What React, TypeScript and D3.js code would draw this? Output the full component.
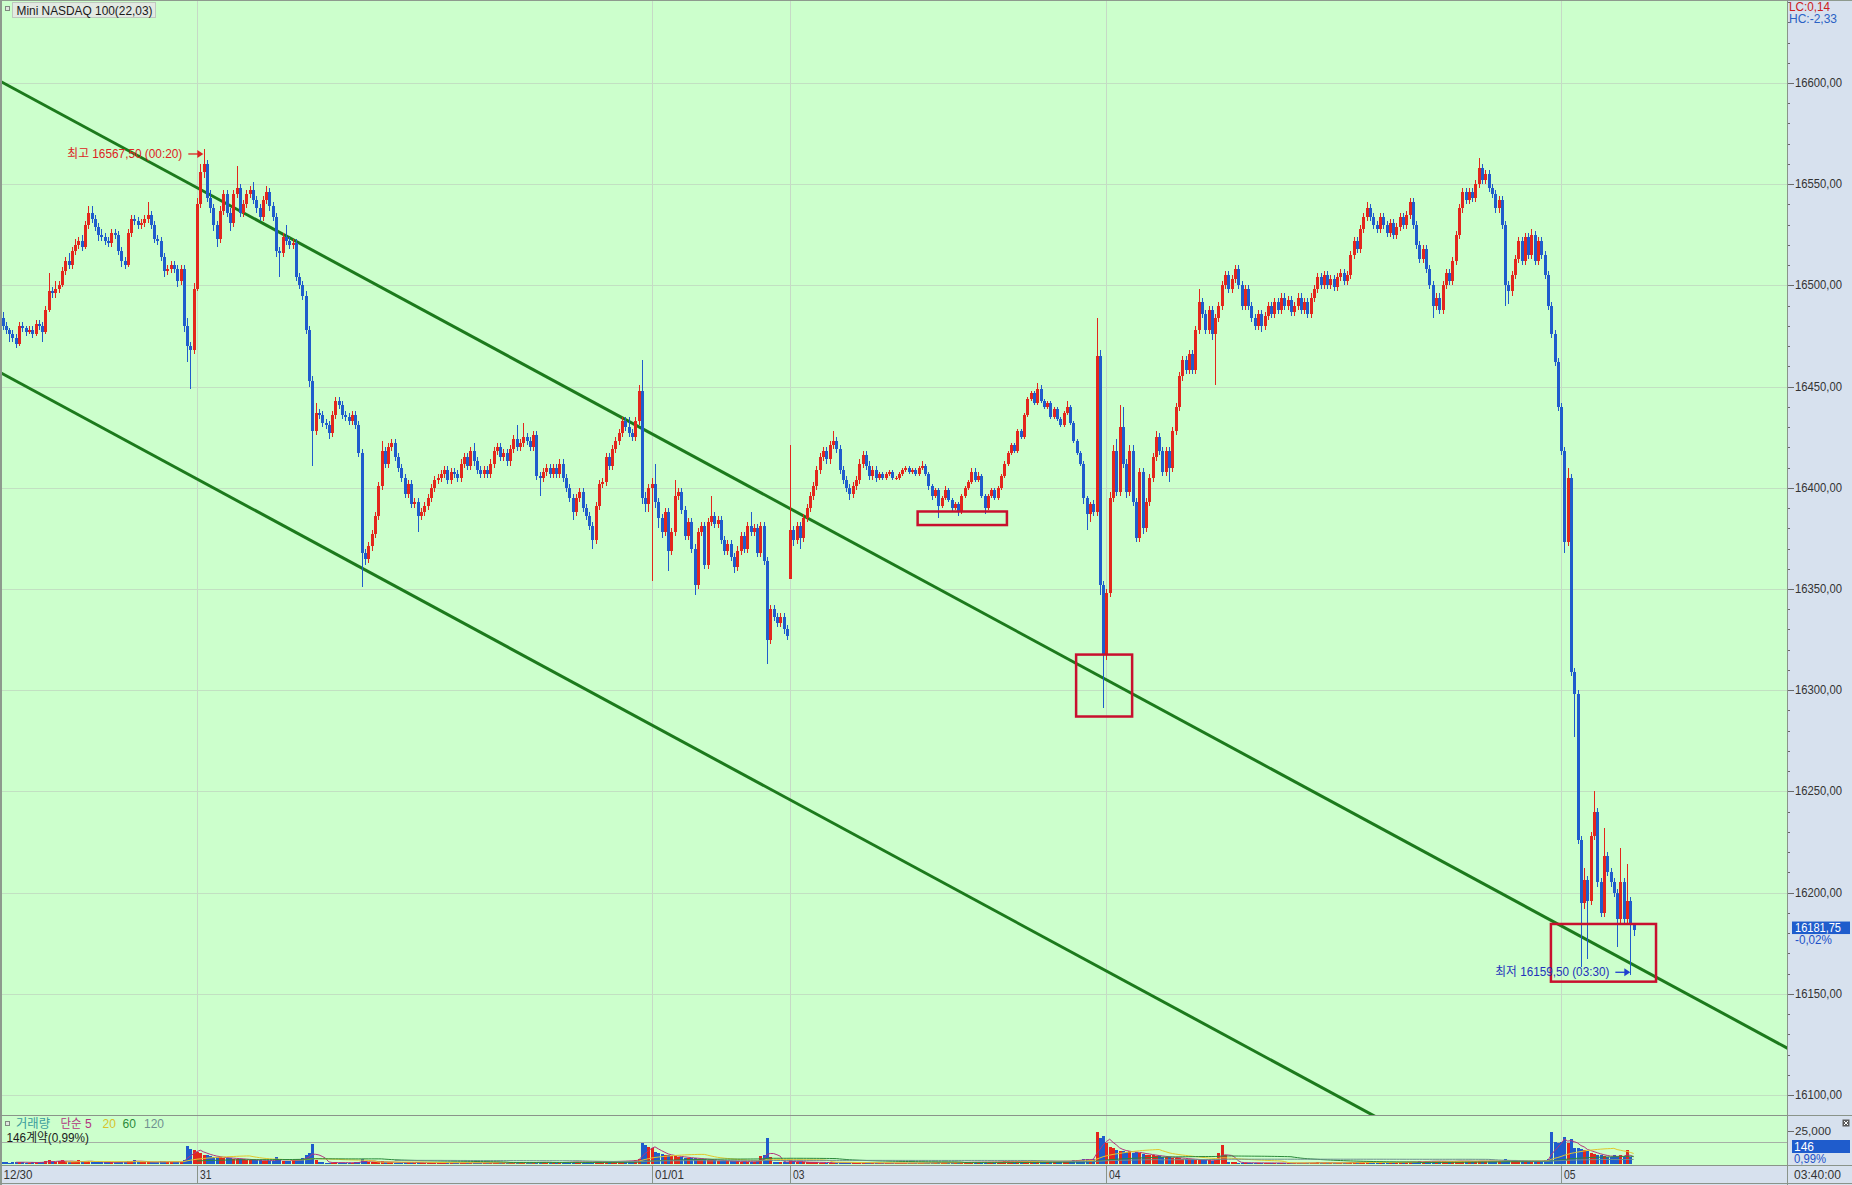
import React from "react";
import * as d3 from "d3";

// ---------------- DATA ----------------
// 10-minute bars, index 0 = 12/30 14:10 KST, last = 01/05 03:40 KST
const closes = [
  16480,16478,16476,16474,16471,16480,16479,16477,16478,16476,
  16481,16480,16477,16488,16497,16496,16498,16500,16507,16512,
  16510,16517,16520,16522,16519,16530,16536,16533,16529,16525,
  16524,16522,16521,16526,16525,16517,16512,16510,16526,16533,
  16532,16530,16531,16533,16535,16530,16523,16522,16514,16507,
  16508,16510,16508,16502,16508,16480,16470,16468,16498,16540,
  16556,16560,16543,16538,16530,16523,16537,16545,16536,16531,
  16545,16548,16536,16540,16545,16547,16542,16538,16534,16542,
  16546,16539,16534,16517,16516,16524,16522,16520,16521,16504,
  16500,16495,16478,16453,16428,16437,16436,16432,16431,16427,
  16436,16443,16441,16436,16435,16433,16436,16431,16417,16368,
  16365,16371,16377,16386,16401,16418,16412,16420,16422,16415,
  16410,16405,16397,16402,16392,16393,16386,16388,16391,16395,
  16400,16404,16405,16407,16409,16404,16408,16407,16405,16412,
  16415,16411,16418,16413,16409,16407,16409,16407,16412,16418,
  16420,16415,16417,16413,16419,16424,16420,16422,16425,16423,
  16420,16426,16406,16405,16408,16410,16407,16410,16407,16412,
  16405,16400,16395,16388,16395,16398,16390,16386,16381,16374,
  16391,16402,16403,16415,16411,16419,16423,16427,16433,16430,
  16427,16425,16433,16448,16395,16392,16400,16402,16393,16385,
  16378,16388,16369,16378,16396,16398,16389,16376,16383,16370,
  16352,16378,16381,16362,16383,16386,16382,16384,16374,16369,
  16372,16366,16361,16369,16376,16370,16381,16378,16380,16368,
  16381,16364,16325,16340,16336,16333,16336,16330,16327,16379,
  16374,16381,16375,16385,16390,16396,16401,16409,16415,16418,
  16414,16421,16423,16419,16409,16404,16400,16397,16401,16404,
  16412,16416,16411,16406,16409,16405,16407,16405,16407,16408,
  16405,16405,16407,16409,16410,16408,16409,16407,16410,16411,
  16407,16401,16396,16399,16391,16395,16399,16394,16390,16392,
  16388,16396,16400,16403,16408,16404,16406,16396,16390,16396,
  16399,16395,16400,16406,16412,16417,16421,16418,16428,16425,
  16436,16444,16447,16442,16449,16443,16440,16442,16435,16439,
  16434,16431,16437,16440,16432,16423,16417,16412,16395,16387,
  16392,16388,16465,16352,16318,16348,16395,16418,16398,16430,
  16412,16398,16418,16393,16375,16408,16380,16393,16405,16415,
  16425,16418,16408,16418,16410,16428,16440,16455,16463,16458,
  16466,16458,16478,16492,16486,16478,16488,16476,16484,16490,
  16500,16505,16498,16503,16508,16500,16490,16498,16490,16484,
  16480,16486,16480,16485,16490,16486,16492,16488,16494,16490,
  16493,16487,16490,16494,16488,16492,16486,16494,16498,16504,
  16500,16505,16500,16503,16499,16504,16506,16502,16505,16515,
  16522,16518,16528,16534,16538,16534,16530,16528,16534,16530,
  16526,16531,16525,16529,16534,16530,16535,16541,16530,16520,
  16513,16518,16508,16500,16490,16494,16488,16500,16506,16502,
  16512,16525,16538,16546,16542,16546,16543,16550,16558,16552,
  16555,16548,16545,16538,16542,16530,16500,16497,16505,16513,
  16522,16512,16524,16515,16525,16512,16522,16515,16505,16490,
  16476,16462,16440,16418,16373,16405,16309,16298,16226,16195,
  16206,16196,16228,16240,16205,16190,16218,16210,16205,16200,
  16187,16205,16187,16196,16184,16181.75,
];

// points of upper shadow above the body
const wickUp = [
  3,2,1,2,2,2,2,1,2,2, 2,2,2,2,9,2,4,2,2,2, 4,2,3,2,3,2,3,3,2,2, 3,2,2,2,2,2,2,2,2,2,
  2,2,2,2,6,2,2,2,2,2, 2,2,2,2,2,2,4,2,3,3, 4,7.5,2,4,2,2,2,2,2,2, 2,11,2,2,2,2,4,2,2,2,
  3,2,2,2,2,2,6,2,2,2, 2,2,2,2,2,5,2,2,2,2, 2,2,2,2,2,2,2,2,2,2, 2,2,2,2,2,5,2,2,2,2,
  2,2,2,2,2,2,2,2,2,2, 2,2,2,2,2,2,2,2,2,2, 2,2,2,4,2,2,2,2,2,2, 2,2,2,2,2,2,7,2,7,2,
  2,2,2,2,2,2,2,2,2,2, 2,2,2,2,2,2,2,2,2,2, 2,2,2,2,2,2,2,2,2,2, 5,2,2,3,15,3,2,3,10,2,
  2,2,2,2,8,2,2,2,2,2, 2,2,2,2,2,10,2,2,2,2, 2,2,2,2,2,2,2,7,2,2, 2,2,2,2,2,2,2,2,2,42,
  2,2,2,2,2,2,2,2,2,2, 2,2,5,2,2,2,2,2,2,2, 2,2,2,2,2,2,1,1,1,1, 1,1,1,1,1,1,1,1,1,2,
  1,1,1,1,1,1,2,1,1,1, 1,1,1,1,2,2,2,1,1,1, 1,1,1,1,1,1,1,1,1,1, 1,1,1,1,3,2,1,1,1,1,
  1,1,1,3,1,1,1,1,1,1, 1,2,19,3,2,2,3,3,6,11, 10,2,3,3,2,2,2,2,2,2, 3,2,2,2,2,2,2,2,2,2,
  2,2,2,6,2,2,2,2,2,2, 2,2,2,2,2,2,2,2,2,2, 2,2,2,2,2,2,2,2,2,2, 2,2,2,2,2,2,2,2,2,2,
  2,2,2,2,2,2,2,2,2,2, 2,2,2,2,3,2,2,2,2,2, 2,2,2,2,2,2,2,2,2,2, 2,2,2,2,2,2,2,2,2,2,
  2,2,2,2,2,2,2,2,5,2, 2,2,2,2,2,2,2,2,2,2, 2,2,2,2,3,2,2,2,2,2, 2,2,2,2,2,5,2,2,2,2,
  6,2,2,10,2,2,14,2,2,2, 2,17,2,18,2,1,
];

// points of lower shadow below the body
const wickDown = [
  2,2,4,2,2,1,2,2,1,2, 1,2,5,1,1,2,2,2,1,2, 2,2,2,2,2,1,2,2,2,3, 2,2,2,2,2,2,3,2,1,2,
  2,2,2,2,2,2,2,2,2,3, 2,2,2,3,2,3,8,19,2,1, 2,3,2,2,3,4,2,2,2,4, 2,2,2,2,2,2,2,2,2,2,
  2,2,2,3,12,2,2,2,2,2, 2,2,2,3,17,2,2,2,2,3, 2,2,2,2,2,2,2,2,2,17, 3,2,2,2,2,2,2,2,2,2,
  2,2,2,2,2,2,8,2,2,2, 2,2,2,2,2,2,2,2,2,2, 2,2,2,2,2,2,2,2,2,2, 2,2,2,2,2,2,2,2,2,2,
  2,2,2,9,2,2,2,2,2,2, 2,2,2,4,2,2,2,2,2,4, 2,2,2,2,2,2,2,2,2,2, 2,2,2,2,3,4,4,46,3,5,
  3,2,10,2,2,2,2,2,2,2, 5,2,2,2,2,2,2,2,2,2, 2,2,3,2,2,2,2,2,2,2, 2,2,12,2,2,2,2,2,2,0,
  3,2,5,2,2,2,2,2,2,2, 2,2,2,2,2,2,2,3,2,2, 2,2,2,2,2,2,1,1,1,1, 1,1,1,1,1,1,1,1,1,1,
  1,2,2,1,6,1,1,1,2,1, 2,1,1,1,1,1,1,1,3,1, 1,1,1,1,1,1,1,1,1,1, 1,1,1,1,1,1,1,1,1,1,
  1,1,1,1,1,1,1,1,3,8, 4,2,2,5,27,3,2,2,2,2, 2,3,2,2,2,2,3,2,2,2, 2,2,2,2,7,2,2,2,2,2,
  2,2,2,2,2,2,2,3,25,2, 2,2,2,2,2,2,2,2,2,2, 2,2,3,2,2,2,2,2,2,2, 2,2,2,2,2,2,2,2,2,2,
  2,2,2,2,2,2,2,2,2,2, 2,2,2,2,2,2,2,2,2,2, 2,2,2,2,2,2,2,2,2,2, 2,2,2,2,6,2,2,2,2,2,
  2,2,2,2,2,2,2,2,2,2, 2,2,2,2,2,2,10,6,2,2, 2,2,2,2,2,2,2,2,2,2, 2,2,2,2,5,2,2,21,2,32,
  3,29,2,2,2,2,2,2,2,2, 14,2,2,2,24.5,3,
];

// bars whose open differs from the previous close: [index, open]
const gapOpens: [number, number][] = [[0, 16484], [239, 16355]];

// contracts per bar
const volumes = [
  1500,1200,1100,1300,1400,1600,1200,1100,1000,1200,
  1300,1200,1400,2200,2800,1600,1500,2600,2900,2000,
  1600,1800,1700,2700,1500,1900,2600,1800,1500,1400,
  1300,1200,1400,1500,1300,1600,1800,1500,2000,2300,
  2900,1800,1500,1400,1700,1500,1600,1400,1900,2000,
  1800,1500,1400,1700,1600,2800,13500,11000,10500,9300,
  8000,7000,6500,6000,5500,5000,5000,4500,4500,4200,
  4000,4000,3800,3500,3300,3000,3000,2800,2800,2600,
  2500,2400,2400,5500,3000,2500,2300,2500,3000,3500,
  3800,4200,6500,8000,15000,3000,1800,1200,1000,900,
  800,1500,1100,900,800,900,1000,1200,1500,3500,
  2500,1800,1600,1500,1700,1900,1400,1300,1200,1100,
  1000,1100,1200,1300,1100,1000,1200,1000,900,1000,
  1100,1000,900,800,900,1000,900,800,900,1000,
  900,800,900,1000,900,800,800,900,1000,1100,
  1000,900,800,900,1000,1100,1200,1000,1100,1000,
  900,1000,1800,1400,1200,1000,1100,1000,1100,1200,
  1300,1400,1500,1800,1600,1500,1400,1500,1600,1800,
  2000,1900,1700,2000,1800,1900,2200,2000,2400,2300,
  2600,2500,3000,4000,15600,14400,13100,12500,9300,8100,
  7500,6800,6500,6000,5800,5500,5000,4800,4500,4300,
  4200,4000,3800,3500,3300,3000,2800,2600,2500,2400,
  2200,2000,1900,2000,1800,1700,1800,1600,1700,2000,
  6000,6800,20000,5000,1800,1500,1400,1300,1200,3000,
  2000,1500,1400,1300,1200,1300,1400,1200,1100,1000,
  1100,1000,900,1000,1100,1000,900,800,900,1000,
  900,800,900,800,700,800,700,600,700,800,
  700,600,700,800,700,600,700,800,700,800,
  900,1000,1100,1000,1200,1100,1000,1200,1300,1100,
  1200,1300,1400,1300,1500,1400,1300,1500,1600,1400,
  1500,1600,1700,1800,1900,2000,1800,1700,1900,2000,
  2100,2300,2200,2000,2400,2200,2000,2100,2000,2200,
  2100,2000,2300,2200,2500,2800,3000,3300,3600,3500,
  3200,4000,24000,20000,21400,15600,13000,12000,10600,10000,
  9500,9000,9500,8500,8800,8000,7500,7000,6800,6500,
  6000,5800,5500,5200,5000,4800,4500,4300,4000,3800,
  3600,3500,3300,3200,3000,2800,2700,2600,3000,8000,
  14400,6800,1800,1400,1200,1000,900,800,900,1000,
  900,800,700,800,900,800,700,600,700,800,
  700,600,700,800,700,800,900,800,1000,1200,
  1000,900,1000,900,800,900,1000,900,1000,1400,
  1300,1200,1500,1400,1300,1200,1300,1100,1200,1300,
  1200,1100,1300,1200,1400,1300,1500,1600,1700,1800,
  1900,1800,2000,2200,2400,2100,2000,1900,2100,2200,
  2000,2300,2400,2200,2000,2100,1900,2200,2500,2300,
  2100,2000,2200,2300,2100,2500,3500,2800,2400,2200,
  2300,2100,2200,2000,2300,2400,2200,2500,2800,3500,
  24000,17000,16000,17000,20700,16000,19000,12000,12000,11000,
  10600,9500,8000,7500,7000,6500,6000,5500,5000,6800,
  5500,6800,5000,10600,5000,146,
];

const dateTicks = [
  { i: 0, label: "12/30" },
  { i: 59, label: "31" },
  { i: 197, label: "01/01" },
  { i: 239, label: "03" },
  { i: 335, label: "04" },
  { i: 473, label: "05" },
];

const priceTicks = [16100, 16150, 16200, 16250, 16300, 16350, 16400, 16450, 16500, 16550, 16600];
const volumeTicks = [25000];
const maPeriods = [5, 20, 60, 120];
const maColors = ["#b2337f", "#e2c72c", "#2a8a3a", "#6f9090"];

// trend channel (bar index, price)
const upperTrend = [{ i: -1, p: 16601.1 }, { i: 545, p: 16120.2 }];
const lowerTrend = [{ i: -1, p: 16457.2 }, { i: 545, p: 15976.3 }];

// annotation rectangles (bar index range, price range)
const boxes = [
  { i0: 277.7, i1: 304.8, hi: 16388.3, lo: 16381.6 },
  { i0: 325.8, i1: 342.8, hi: 16317.6, lo: 16287.0 },
  { i0: 469.9, i1: 501.8, hi: 16184.5, lo: 16156.0 },
];

const highMark = { i: 61, price: 16567.5, label: "최고 16567,50 (00:20)" };
const lowMark = { i: 494, price: 16159.5, label: "최저 16159,50 (03:30)" };

const title = "Mini NASDAQ 100(22,03)";
const lastChange = "-0,02%";
const lastVolumeLabel = "146";
const lastVolumePct = "0,99%";
const lastTime = "03:40:00";
const lcText = "LC:0,14";
const hcText = "HC:-2,33";

// ---------------- LAYOUT ----------------
const W = 1852, H = 1185;
const PLOT_R = 1787;
const PRICE_BOT = 1115;
const VOL_TOP = 1115, VOL_BOT = 1165;
const FONT = "'Liberation Sans', 'Noto Sans CJK KR', Arial, sans-serif";
const UP = "#e3261c", DOWN = "#1f5ccc";
const BG = "#ccffcc", PANEL = "#d7e1ee";
const GRID = "#c2e0c2";
const VGRID = "#c6d9c6";

export default function App() {
  const n = closes.length;
  const STEP = 3.295, X0 = 2.6;
  const x = d3.scaleLinear().domain([0, n - 1]).range([X0, X0 + (n - 1) * STEP]);
  const y = d3.scaleLinear().domain([16100, 16600]).range([1095, 83]);
  const yv = d3.scaleLinear().domain([0, 25000]).range([1164, 1131]);

  const gapMap = new Map<number, number>(gapOpens);
  const bars = closes.map((c, i) => {
    const o = gapMap.has(i) ? (gapMap.get(i) as number) : closes[i - 1];
    const h = Math.max(o, c) + wickUp[i];
    const l = Math.min(o, c) - wickDown[i];
    return { i, o, h, l, c, v: volumes[i], up: c >= o };
  });

  const mas = maPeriods.map((p) =>
    volumes.map((_, i) => (i < p - 1 ? null : (d3.mean(volumes.slice(i - p + 1, i + 1)) as number)))
  );
  const maLine = d3
    .line<number | null>()
    .defined((d) => d != null)
    .x((_, i) => x(i))
    .y((d) => yv(d as number));

  const trendLine = d3
    .line<{ i: number; p: number }>()
    .x((d) => x(d.i))
    .y((d) => y(d.p));

  const minorTicks = d3.range(16090, 16650, 10);
  const fmtPrice = (v: number) => d3.format(".2f")(v).replace(".", ",");
  const fmtVol = (v: number) => d3.format(",")(v);

  const last = bars[n - 1];
  const lastY = y(last.c);

  const hx = x(highMark.i) - 0.3;
  const hy = y(highMark.price) + 5.2;
  const lx = x(lowMark.i);
  const ly = y(lowMark.price) - 2.3;

  const arrow = (tipX: number, yy: number, color: string) => (
    <g>
      <line x1={tipX - 15} x2={tipX - 4} y1={yy} y2={yy} stroke={color} strokeWidth={1.3} />
      <path d={`M${tipX - 6},${yy - 4} L${tipX},${yy} L${tipX - 6},${yy + 4} Z`} fill={color} />
    </g>
  );

  return (
    <svg
      width={W}
      height={H}
      viewBox={`0 0 ${W} ${H}`}
      style={{ position: "absolute", left: 0, top: 0, display: "block" }}
      fontFamily={FONT}
      fontSize={12}
    >
      <defs>
        <clipPath id="pricePane">
          <rect x={0} y={0} width={PLOT_R} height={PRICE_BOT} />
        </clipPath>
        <clipPath id="volPane">
          <rect x={0} y={VOL_TOP} width={PLOT_R} height={VOL_BOT - VOL_TOP} />
        </clipPath>
      </defs>

      {/* backgrounds */}
      <rect x={0} y={0} width={W} height={H} fill={BG} />
      <rect x={PLOT_R} y={0} width={W - PLOT_R} height={H} fill={PANEL} />
      <rect x={0} y={VOL_BOT} width={W} height={H - VOL_BOT} fill={PANEL} />

      {/* grid */}
      <g shapeRendering="crispEdges">
        {priceTicks.map((p) => (
          <line key={p} x1={0} x2={PLOT_R} y1={Math.round(y(p)) + 0.5} y2={Math.round(y(p)) + 0.5} stroke={GRID} />
        ))}
        {dateTicks
          .filter((d) => d.i > 0)
          .map((d) => (
            <line key={d.i} x1={Math.round(x(d.i)) + 0.5} x2={Math.round(x(d.i)) + 0.5} y1={0} y2={VOL_BOT} stroke={VGRID} />
          ))}
        <line x1={0} x2={PLOT_R} y1={1142.5} y2={1142.5} stroke="#a6b0a6" />
      </g>

      {/* trend channel */}
      <g clipPath="url(#pricePane)">
        <path d={trendLine(upperTrend) || ""} stroke="#1c7a1c" strokeWidth={3} fill="none" />
        <path d={trendLine(lowerTrend) || ""} stroke="#1c7a1c" strokeWidth={3} fill="none" />
      </g>

      {/* candles */}
      <g clipPath="url(#pricePane)" shapeRendering="crispEdges">
        {bars.map((b) => {
          const cx = Math.round(x(b.i));
          const col = b.up ? UP : DOWN;
          const top = y(Math.max(b.o, b.c));
          const bot = y(Math.min(b.o, b.c));
          return (
            <g key={b.i}>
              <line x1={cx + 0.5} x2={cx + 0.5} y1={y(b.h)} y2={y(b.l)} stroke={col} strokeWidth={1} />
              <rect x={cx - 1} y={top} width={3} height={Math.max(1, bot - top)} fill={col} />
            </g>
          );
        })}
      </g>

      {/* annotation boxes */}
      <g fill="none" stroke="#c8102e" strokeWidth={2.5}>
        {boxes.map((bx, k) => (
          <rect key={k} x={x(bx.i0)} y={y(bx.hi)} width={x(bx.i1) - x(bx.i0)} height={y(bx.lo) - y(bx.hi)} />
        ))}
      </g>

      {/* high / low markers */}
      <text x={hx - 21} y={hy} fill="#dd2222" textAnchor="end" dominantBaseline="central" textLength={115} lengthAdjust="spacingAndGlyphs">
        {highMark.label}
      </text>
      {arrow(hx, hy, "#dd2222")}
      <text x={lx - 21} y={ly} fill="#2233bb" textAnchor="end" dominantBaseline="central" textLength={114} lengthAdjust="spacingAndGlyphs">
        {lowMark.label}
      </text>
      {arrow(lx, ly, "#1f3fd0")}

      {/* volume pane */}
      <g clipPath="url(#volPane)" shapeRendering="crispEdges">
        {bars.map((b) => {
          const cx = Math.round(x(b.i));
          const top = yv(b.v);
          return <rect key={b.i} x={cx - 1} y={top} width={3} height={Math.max(0.5, yv(0) - top)} fill={b.up ? UP : DOWN} />;
        })}
      </g>
      <g clipPath="url(#volPane)">
        {mas.map((m, k) => (
          <path key={k} d={maLine(m) || ""} fill="none" stroke={maColors[k]} strokeWidth={1} />
        ))}
      </g>

      {/* title */}
      <rect x={5.5} y={6.5} width={4} height={4} fill="#dfe6df" stroke="#7f8a7f" />
      <rect x={12.5} y={2.5} width={143} height={15} fill="#e2e9e2" stroke="#bfc8bf" />
      <text x={16.5} y={10.5} fill="#1a1a1a" fontSize={13} dominantBaseline="central" textLength={136} lengthAdjust="spacingAndGlyphs">
        {title}
      </text>

      {/* volume legend */}
      <rect x={5.5} y={1121.5} width={4} height={4} fill="#dfe6df" stroke="#7f8a7f" />
      <text y={1124} dominantBaseline="central">
        <tspan x={16} fill="#3a9c9c" textLength={34} lengthAdjust="spacingAndGlyphs">거래량</tspan>
        <tspan x={60.5} fill="#b2337f" textLength={21} lengthAdjust="spacingAndGlyphs">단순</tspan>
        <tspan x={85} fill="#b2337f">5</tspan>
        <tspan x={102.5} fill="#d8c22a">20</tspan>
        <tspan x={122.5} fill="#2a8a3a">60</tspan>
        <tspan x={144} fill="#6f9090">120</tspan>
      </text>
      <text x={6.5} y={1137.5} fill="#1a1a1a" dominantBaseline="central" textLength={82.5} lengthAdjust="spacingAndGlyphs">
        {`${lastVolumeLabel}계약(${lastVolumePct})`}
      </text>

      {/* frame lines */}
      <g shapeRendering="crispEdges">
        <rect x={0} y={0} width={2} height={H} fill="#8e9a8e" />
        <line x1={0} x2={W} y1={0.5} y2={0.5} stroke="#8e9a8e" />
        <line x1={PLOT_R + 0.5} x2={PLOT_R + 0.5} y1={0} y2={H} stroke="#8a948a" />
        <line x1={0} x2={W} y1={VOL_TOP + 0.5} y2={VOL_TOP + 0.5} stroke="#8a948a" />
        <line x1={0} x2={W} y1={VOL_BOT + 0.5} y2={VOL_BOT + 0.5} stroke="#8a948a" />
        <line x1={0} x2={W} y1={H - 1.5} y2={H - 1.5} stroke="#8a948a" />
      </g>

      {/* right price axis */}
      <g shapeRendering="crispEdges" stroke="#6a6a6a">
        {minorTicks
          .filter((p) => y(p) > 2 && y(p) < PRICE_BOT - 2)
          .map((p) => {
            const yy = Math.round(y(p)) + 0.5;
            const major = p % 50 === 0;
            return <line key={p} x1={PLOT_R + 1} x2={PLOT_R + (major ? 7 : 3)} y1={yy} y2={yy} />;
          })}
        {volumeTicks.map((v) => (
          <line key={v} x1={PLOT_R + 1} x2={PLOT_R + 7} y1={Math.round(yv(v)) + 0.5} y2={Math.round(yv(v)) + 0.5} />
        ))}
      </g>
      {priceTicks.map((p) => (
        <text key={p} x={1795} y={y(p)} fill="#333" dominantBaseline="central" textLength={47} lengthAdjust="spacingAndGlyphs">
          {fmtPrice(p)}
        </text>
      ))}
      <text x={1789} y={7} fill="#cc2020" dominantBaseline="central" textLength={41} lengthAdjust="spacingAndGlyphs">
        {lcText}
      </text>
      <text x={1789} y={18.5} fill="#2a62c4" dominantBaseline="central" textLength={48} lengthAdjust="spacingAndGlyphs">
        {hcText}
      </text>

      {/* last price */}
      <rect x={1792} y={lastY - 8} width={58} height={12.5} fill="#1f5ccc" />
      <text x={1795} y={lastY - 1.6} fill="#ffffff" dominantBaseline="central" textLength={46} lengthAdjust="spacingAndGlyphs">
        {fmtPrice(last.c)}
      </text>
      <text x={1795} y={lastY + 10} fill="#2050c8" dominantBaseline="central" textLength={37} lengthAdjust="spacingAndGlyphs">
        {lastChange}
      </text>

      {/* volume axis */}
      {volumeTicks.map((v) => (
        <text key={v} x={1795} y={yv(v) - 0.5} fill="#333" fontSize={11} dominantBaseline="central" textLength={36} lengthAdjust="spacingAndGlyphs">
          {fmtVol(v)}
        </text>
      ))}
      <rect x={1792} y={1140} width={58} height={13} fill="#1f5ccc" />
      <text x={1794} y={1146.6} fill="#ffffff" dominantBaseline="central" textLength={20} lengthAdjust="spacingAndGlyphs">
        {lastVolumeLabel}
      </text>
      <text x={1794} y={1158.8} fill="#2050c8" dominantBaseline="central" textLength={32} lengthAdjust="spacingAndGlyphs">
        {lastVolumePct}
      </text>
      <rect x={1842.5} y={1119.5} width={7} height={7} fill="#5a5a5a" />
      <path d="M1844,1121 L1848,1125 M1848,1121 L1844,1125" stroke="#fff" strokeWidth={1} />

      {/* bottom time axis */}
      {dateTicks.map((d) => {
        const xx = d.i === 0 ? 1 : Math.round(x(d.i)) + 0.5;
        const len = d.label.length > 2 ? 29 : 11.5;
        return (
          <g key={d.i}>
            {d.i > 0 && <line x1={xx} x2={xx} y1={VOL_BOT} y2={H - 2} stroke="#8a948a" shapeRendering="crispEdges" />}
            <text x={xx + 2.5} y={1175} fill="#333" dominantBaseline="central" textLength={len} lengthAdjust="spacingAndGlyphs">
              {d.label}
            </text>
          </g>
        );
      })}
      <text x={1794} y={1174.5} fill="#333" dominantBaseline="central" textLength={47} lengthAdjust="spacingAndGlyphs">
        {lastTime}
      </text>
    </svg>
  );
}
